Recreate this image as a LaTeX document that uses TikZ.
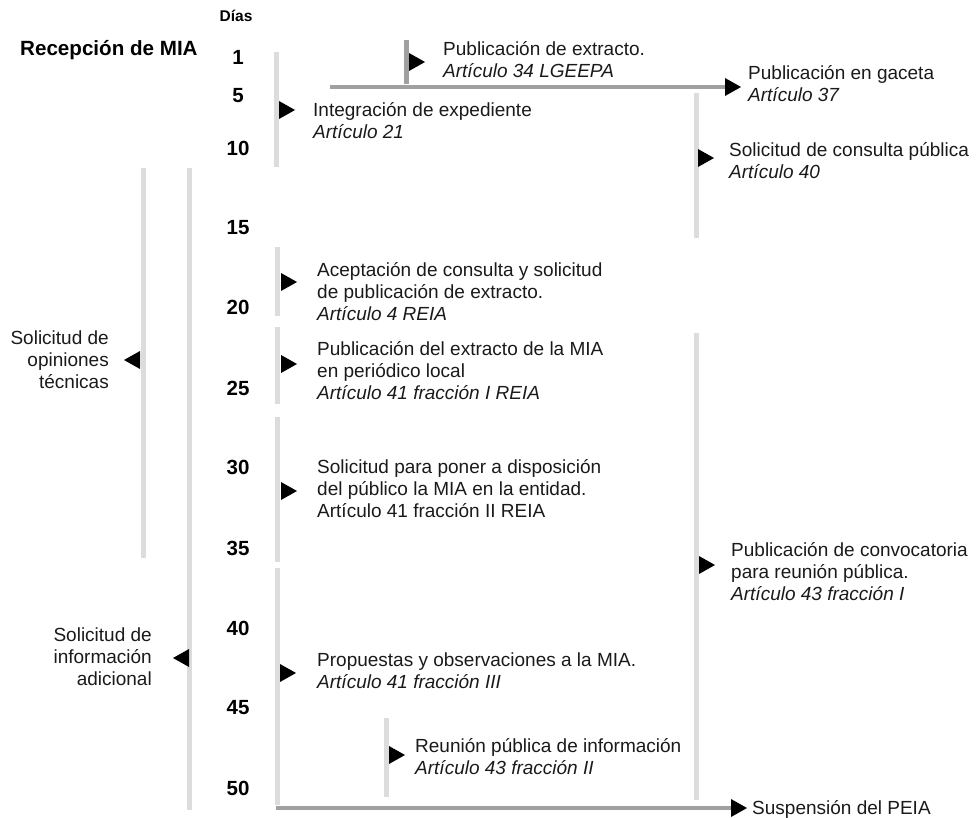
\documentclass[tikz,border=0pt]{standalone}
\usepackage{fontspec}
\setmainfont{Liberation Sans}
\definecolor{barlight}{HTML}{DCDCDC}
\definecolor{bardark}{HTML}{A0A0A0}
\definecolor{ink}{HTML}{1A1A1A}
\begin{document}
\begin{tikzpicture}[x=1pt,y=-1pt,
  lbar/.style={draw=barlight,line width=5pt},
  dbar/.style={draw=bardark,line width=4pt},
  lbl/.style={anchor=base west,inner sep=0pt,align=left,text=ink,font=\fontsize{19}{22}\selectfont},
  rlbl/.style={anchor=base east,inner sep=0pt,align=right,text=ink,font=\fontsize{19}{22}\selectfont},
  day/.style={anchor=base,inner sep=0pt,font=\bfseries\fontsize{20.5}{22}\selectfont},
  rtri/.pic={\fill[black] (-8,-9) -- (8,0) -- (-8,9) -- cycle;},
  ltri/.pic={\fill[black] (8,-9) -- (-8,0) -- (8,9) -- cycle;}
]
\useasboundingbox (0,0) rectangle (976,818);

% header
\node[anchor=base,inner sep=0pt,font=\bfseries\fontsize{15.5}{17}\selectfont] (dias) at (236,22) {Días};
\node[anchor=base west,inner sep=0pt,font=\bfseries\fontsize{20.6}{24}\selectfont] (recep) at (20,56) {Recepción de MIA};

% day numbers
\foreach \d/\y in {1/57,5/95,10/148,15/227,20/307,25/388,30/467,35/548,40/628,45/707,50/788}
  \node[day] (d\d) at (238,\y+7.5) {\d};

% light bars
\draw[lbar] (276,52) -- (276,167);
\draw[lbar] (143,168) -- (143,558);
\draw[lbar] (189,168) -- (189,810);
\draw[lbar] (277,247) -- (277,316);
\draw[lbar] (277,327) -- (277,404);
\draw[lbar] (277,417) -- (277,562);
\draw[lbar] (277,568) -- (277,805);
\draw[lbar] (386,718) -- (386,797);
\draw[lbar] (696,93) -- (696,238);
\draw[lbar] (696,333) -- (696,800);

% dark bars and connectors
\draw[dbar,line width=5pt] (406,40) -- (406,84);
\coordinate (gs) at (330,87);
\coordinate (ge) at (726,87);
\draw[dbar] (gs) -- (ge);
\coordinate (ss) at (276,808);
\coordinate (se) at (732,808);
\draw[dbar] (ss) -- (se);

% triangles
\pic at (417,62) {rtri};
\pic at (733,87) {rtri};
\pic at (287,110) {rtri};
\pic at (706,158) {rtri};
\pic at (289,282) {rtri};
\pic at (289,364) {rtri};
\pic at (289,491) {rtri};
\pic at (132,360) {ltri};
\pic at (181,658) {ltri};
\pic at (288,673) {rtri};
\pic at (397,755) {rtri};
\pic at (707,565) {rtri};
\pic at (739,808) {rtri};

% labels (base anchor = baseline of last line)
\node[lbl] (pext) at (443,77.5) {Publicación de extracto.\\\textit{Artículo 34 LGEEPA}};
\node[lbl] (gac) at (748,101.5) {Publicación en gaceta\\\textit{Artículo 37}};
\node[lbl] (integ) at (313,138.5) {Integración de expediente\\\textit{Artículo 21}};
\node[lbl] (cons) at (729,178.5) {Solicitud de consulta pública\\\textit{Artículo 40}};
\node[lbl] (acep) at (317,320.5) {Aceptación de consulta y solicitud\\de publicación de extracto.\\\textit{Artículo 4 REIA}};
\node[lbl] (pmia) at (317,399.5) {Publicación del extracto de la MIA\\en periódico local\\\textit{Artículo 41 fracción I REIA}};
\node[lbl] (disp) at (317,517.5) {Solicitud para poner a disposición\\del público la MIA en la entidad.\\Artículo 41 fracción II REIA};
\node[rlbl] (opin) at (109,388.5) {Solicitud de\\opiniones\\técnicas};
\node[rlbl] (info) at (152,685.5) {Solicitud de\\información\\adicional};
\node[lbl] (conv) at (731,600.5) {Publicación de convocatoria\\para reunión pública.\\\textit{Artículo 43 fracción I}};
\node[lbl] (prop) at (317,688.5) {Propuestas y observaciones a la MIA.\\\textit{Artículo 41 fracción III}};
\node[lbl] (reun) at (415,774.5) {Reunión pública de información\\\textit{Artículo 43 fracción II}};
\node[lbl] (susp) at (752,814.5) {Suspensión del PEIA};
\end{tikzpicture}
\end{document}
